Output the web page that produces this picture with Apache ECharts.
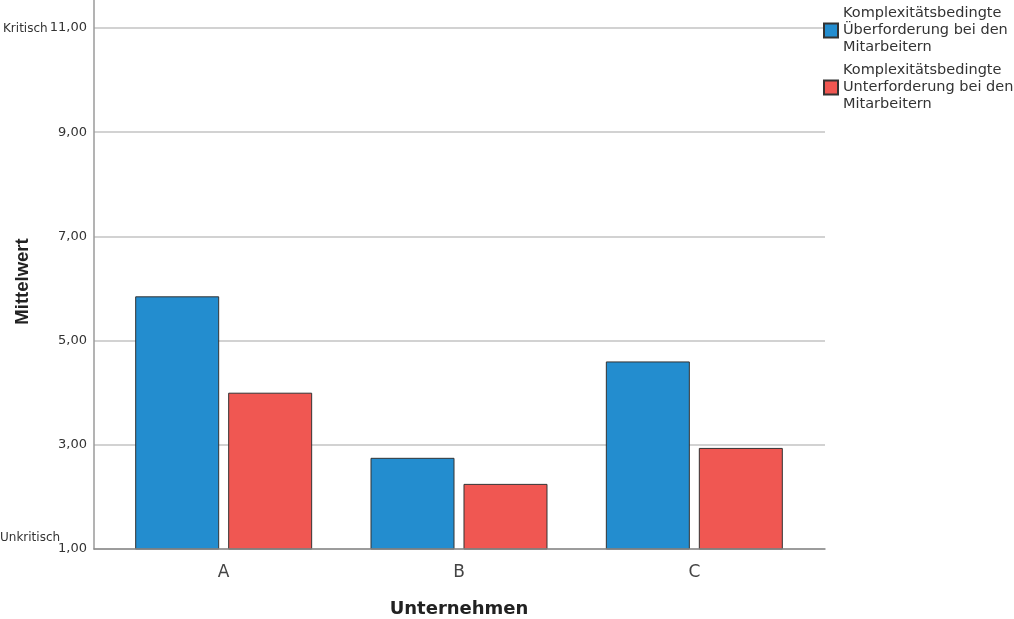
<!DOCTYPE html>
<html><head><meta charset="utf-8">
<script src="https://cdn.jsdelivr.net/npm/echarts@6/dist/echarts.min.js"></script>
<style>html,body{margin:0;padding:0;background:#fff}#c{width:1014px;height:619px}</style>
</head><body><div id="c"></div>
<script>
const categories = ['A', 'B', 'C'];
const seriesNames = [
  'Komplexitätsbedingte\nÜberforderung bei den\nMitarbeitern',
  'Komplexitätsbedingte\nUnterforderung bei den\nMitarbeitern'
];
const ueberforderung = [5.85, 2.75, 4.60];
const unterforderung = [4.00, 2.25, 2.94];
const yMin = 1, yMax = 11, yInterval = 2;
const xTitle = 'Unternehmen';
const yTitle = 'Mittelwert';
const highLabel = 'Kritisch';
const lowLabel = 'Unkritisch';
const colors = ['#238dcf', '#f05752'];

const chart = echarts.init(document.getElementById('c'));
const fmt = v => v.toFixed(2).replace('.', ',');

chart.setOption({
  animation: false,
  backgroundColor: '#fff',
  grid: [
    { left: 94, right: 189, top: 0, bottom: 70, outerBoundsMode: 'none', containLabel: false },
    { left: 94, right: 189, top: 28, bottom: 70, outerBoundsMode: 'none', containLabel: false },
    { left: 106, right: 202, top: 28, bottom: 70, outerBoundsMode: 'none', containLabel: false }
  ],
  legend: {
    orient: 'vertical', left: 818, top: 0,
    itemWidth: 14, itemHeight: 14, itemGap: 6,
    icon: 'rect',
    textStyle: { fontFamily: 'DejaVu Sans', fontSize: 14.5, lineHeight: 17, color: '#333' },
    data: seriesNames
  },
  xAxis: [
    { gridIndex: 0, type: 'category', data: categories, z: 5,
      axisLine: { show: true, lineStyle: { color: '#8a8a8a', width: 1.5 } },
      axisTick: { show: false }, axisLabel: { show: false }, splitLine: { show: false } },
    { gridIndex: 1, type: 'category', data: categories, show: false },
    { gridIndex: 2, type: 'category', data: categories,
      axisLine: { show: false }, axisTick: { show: false },
      axisLabel: { margin: 15, fontFamily: 'DejaVu Sans', fontSize: 17, color: '#444' },
      name: xTitle, nameLocation: 'middle', nameGap: 51,
      nameTextStyle: { fontFamily: 'DejaVu Sans', fontWeight: 'bold', fontSize: 18, color: '#222' } }
  ],
  yAxis: [
    { gridIndex: 0, type: 'value', min: 0, max: 1, z: 5,
      axisLine: { show: true, lineStyle: { color: '#9a9a9a', width: 1.5 } },
      axisTick: { show: false }, axisLabel: { show: false }, splitLine: { show: false } },
    { gridIndex: 1, type: 'value', min: yMin, max: yMax, interval: yInterval,
      axisLine: { show: false }, axisTick: { show: false },
      axisLabel: { margin: 7, fontFamily: 'DejaVu Sans', fontSize: 13, color: '#333', formatter: fmt },
      splitLine: { show: true, lineStyle: { color: '#d2d2d2', width: 2 } },
      name: yTitle, nameLocation: 'middle', nameGap: 62,
      nameTextStyle: { fontFamily: 'Liberation Sans', fontWeight: 'bold', fontSize: 18.5, color: '#222', padding: [0, 0, 0, 14] } },
    { gridIndex: 2, type: 'value', min: yMin, max: yMax, interval: yInterval, show: false }
  ],
  series: [
    { name: seriesNames[0], type: 'bar', xAxisIndex: 2, yAxisIndex: 2, data: ueberforderung,
      barWidth: 84, barGap: '10.7%',
      itemStyle: { color: colors[0], borderColor: '#333', borderWidth: 1 } },
    { name: seriesNames[1], type: 'bar', xAxisIndex: 2, yAxisIndex: 2, data: unterforderung,
      barWidth: 84, barGap: '10.7%',
      itemStyle: { color: colors[1], borderColor: '#333', borderWidth: 1 } }
  ]
});

const yHigh = chart.convertToPixel({ yAxisIndex: 1 }, yMax);
const yLow = chart.convertToPixel({ yAxisIndex: 1 }, yMin);
chart.setOption({
  graphic: [
    { type: 'text', left: 3, top: yHigh - 5,
      style: { text: highLabel, font: '12px "DejaVu Sans"', fill: '#333' } },
    { type: 'text', left: 0, top: yLow - 17,
      style: { text: lowLabel, font: '12px "DejaVu Sans"', fill: '#333' } }
  ]
});
</script>
</body></html>
